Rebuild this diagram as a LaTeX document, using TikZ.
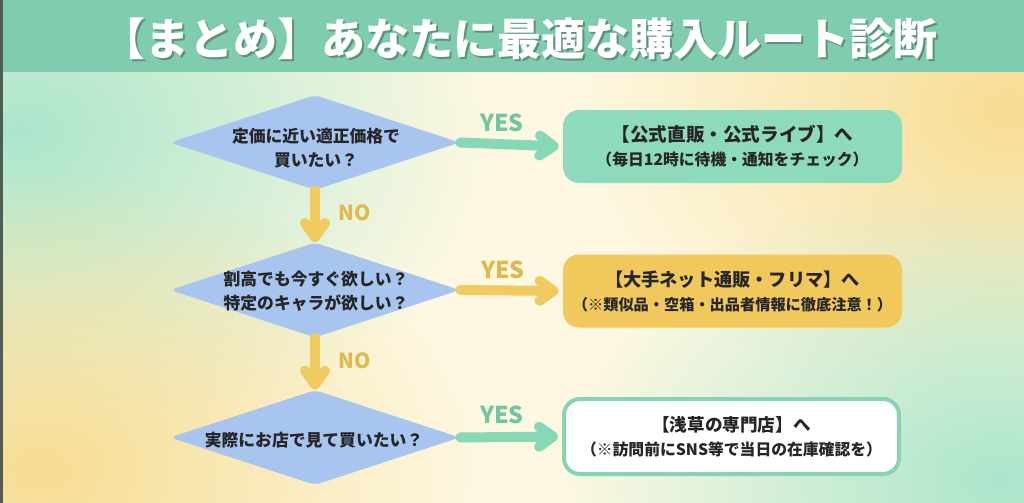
\documentclass[tikz,border=0pt]{standalone}
\usepackage{fontspec}
\usetikzlibrary{shapes.geometric,arrows.meta,fadings}
\newfontfamily\jp{Noto Sans CJK JP}
\tikzfading[name=softfade, inner color=transparent!0, outer color=transparent!100]
\definecolor{cream}{HTML}{FEF8E2}
\definecolor{bgGreen}{HTML}{ABE6CC}
\definecolor{bgYellow}{HTML}{F7DD93}
\definecolor{header}{HTML}{80CCAE}
\definecolor{edgeDark}{HTML}{4E5E55}
\definecolor{diaBlue}{HTML}{A8C5F0}
\definecolor{boxGreen}{HTML}{8EDBBC}
\definecolor{boxGold}{HTML}{F0C85C}
\definecolor{boxLine}{HTML}{86D4B5}
\definecolor{arrGreen}{HTML}{86D8B7}
\definecolor{arrGold}{HTML}{F1CB60}
\definecolor{lblGreen}{HTML}{6FC6A2}
\definecolor{lblGold}{HTML}{DFB84E}
\definecolor{ink}{HTML}{262626}
\tikzset{
  dia/.style={diamond, fill=diaBlue, inner sep=0pt, minimum width=145pt, minimum height=47.5pt, rounded corners=3pt},
  qtext/.style={font=\jp\bfseries\fontsize{8.4}{12}\selectfont, text=ink, align=center, inner sep=0pt},
  rbox/.style={rectangle, rounded corners=8pt, minimum width=169.5pt, minimum height=36.5pt, align=center, text=ink, font=\jp\bfseries, inner sep=0pt},
  yesarrow/.style={line width=5pt, line cap=round, -{Straight Barb[length=7pt,width=10pt,round]}},
  lbl/.style={font=\jp\bfseries\fontsize{11.6}{12}\selectfont, inner sep=0pt},
  nolbl/.style={font=\jp\bfseries\fontsize{10.4}{12}\selectfont, inner sep=0pt, text=lblGold},
}
\begin{document}
\begin{tikzpicture}[x=0.5pt,y=-0.5pt]
\useasboundingbox (0,0) rectangle (1024,503);
% background
\fill[cream] (0,0) rectangle (1024,503);
\begin{scope}
  \clip (0,72) rectangle (1024,503);
  \fill[bgGreen, path fading=softfade] (20,130) ellipse [x radius=470, y radius=330];
  \fill[bgYellow, path fading=softfade] (40,470) ellipse [x radius=440, y radius=300];
  \fill[bgYellow, path fading=softfade] (1010,110) ellipse [x radius=430, y radius=300];
  \fill[bgGreen, path fading=softfade] (1000,480) ellipse [x radius=440, y radius=300];
\end{scope}
% header
\fill[header] (0,0) rectangle (1024,72);
\fill[edgeDark] (0,0) rectangle (2.5,503);
\node[font=\jp\bfseries\fontsize{22}{24}\selectfont, text=black, opacity=0.28, inner sep=0pt] (titleshadow) at (521.5,41) {【まとめ】あなたに最適な購入ルート診断};
\node[font=\jp\bfseries\fontsize{22}{24}\selectfont, text=white, inner sep=0pt] (title) at (519.5,38.5) {【まとめ】あなたに最適な購入ルート診断};

% decisions
\node[dia] (q1) at (315,142.5) {};
\node[dia] (q2) at (315,290) {};
\node[dia] (q3) at (315,437.5) {};
\node[qtext] (q1t) at (316,148) {定価に近い適正価格で\\買いたい？};
\node[qtext] (q2t) at (316,291) {割高でも今すぐ欲しい？\\特定のキャラが欲しい？};
\node[qtext] (q3t) at (314,440) {実際にお店で見て買いたい？};

% results
\node[rbox, fill=boxGreen] (b1) at (732.5,146.5) {{\fontsize{9.3}{11.5}\selectfont 【公式直販・公式ライブ】へ}\\{\fontsize{7.9}{11.5}\selectfont （毎日12時に待機・通知をチェック）}};
\node[rbox, fill=boxGold] (b2) at (732.5,291) {{\fontsize{9.1}{11}\selectfont 【大手ネット通販・フリマ】へ}\\{\fontsize{7.6}{11}\selectfont （※類似品・空箱・出品者情報に徹底注意！）}};
\node[rbox, fill=white, draw=boxLine, line width=2pt, minimum width=167.5pt, minimum height=37.5pt] (b3) at (731.5,436.5) {{\fontsize{8.8}{11}\selectfont 【浅草の専門店】へ}\\{\fontsize{7.9}{11}\selectfont （※訪問前にSNS等で当日の在庫確認を）}};

% connectors
\draw[yesarrow, arrGreen, shorten >=2pt] (q1.east) -- (b1.west);
\draw[yesarrow, arrGold, shorten >=2pt] (q2.east) -- (b2.west);
\draw[yesarrow, arrGreen, shorten >=2pt] (q3.east) -- (b3.west);
\draw[yesarrow, arrGold] (q1.south) -- (q2.north);
\draw[yesarrow, arrGold] (q2.south) -- (q3.north);

\node[lbl, text=lblGreen] (y1) at (502,123) {YES};
\node[lbl, text=lblGold] (y2) at (503,270) {YES};
\node[lbl, text=lblGreen] (y3) at (502,415) {YES};
\node[nolbl] (n1) at (355,213) {NO};
\node[nolbl] (n2) at (355,361) {NO};
\end{tikzpicture}
\end{document}
